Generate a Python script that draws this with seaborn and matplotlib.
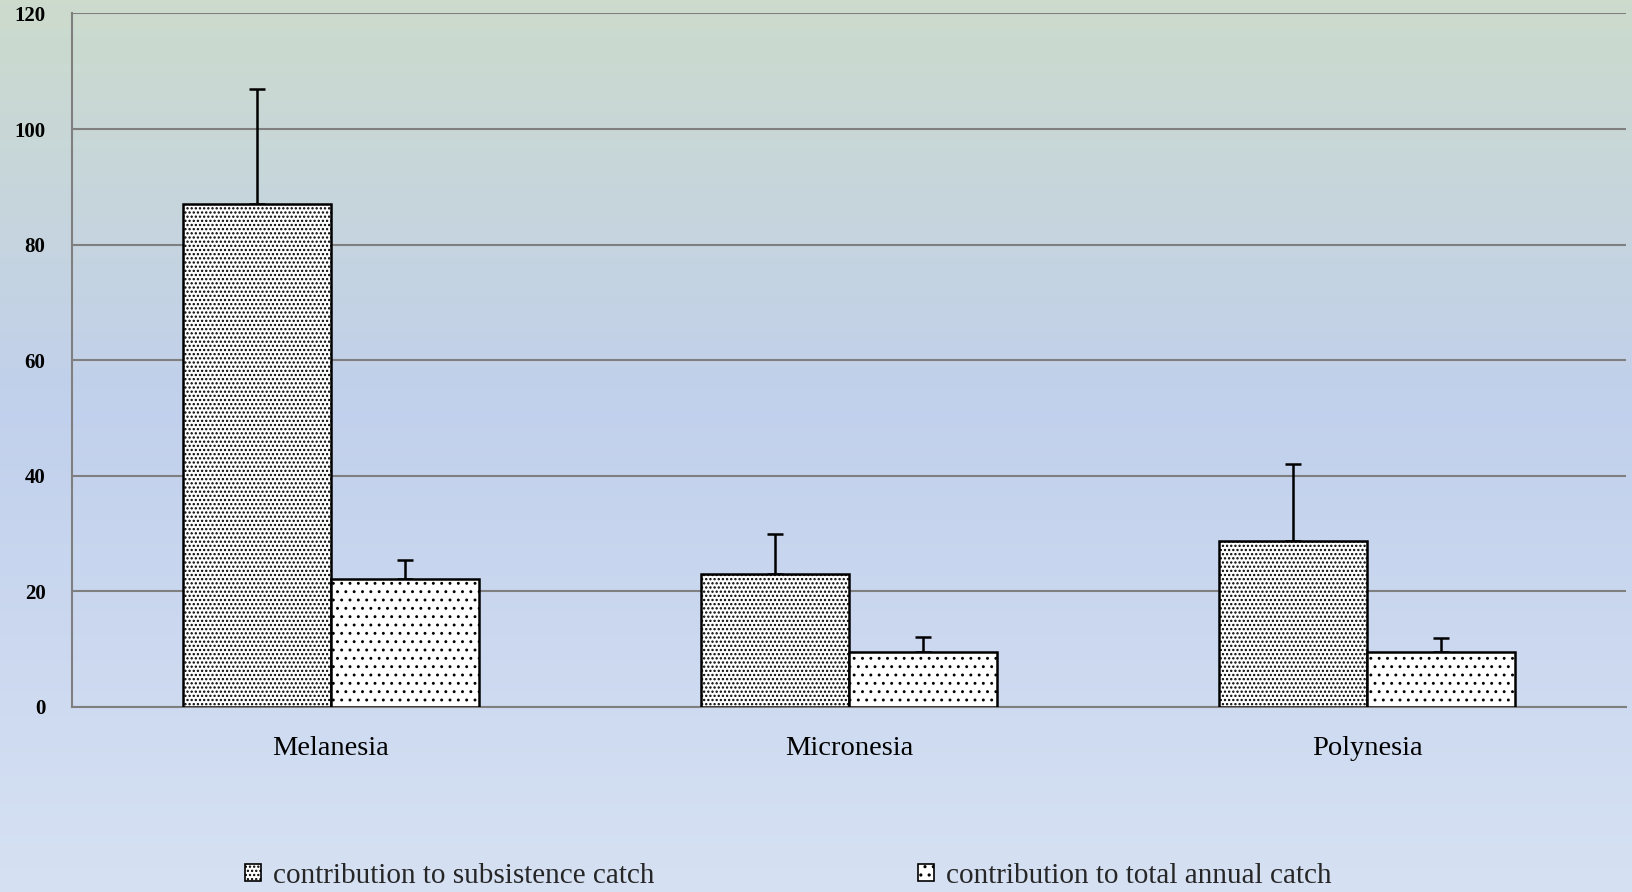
import numpy as np
import pandas as pd
import matplotlib
matplotlib.use("Agg")
import matplotlib.pyplot as plt
from matplotlib.colors import LinearSegmentedColormap
from matplotlib.patches import Patch
import seaborn as sns

# ---- data ----
regions = ["Melanesia", "Micronesia", "Polynesia"]
series = ["contribution to subsistence catch", "contribution to total annual catch"]
subsistence = [87.0, 23.0, 28.8]
subsistence_upper = [107.0, 30.0, 42.0]
total_annual = [22.2, 9.6, 9.6]
total_upper = [25.4, 12.1, 11.9]
y_ticks = [0, 20, 40, 60, 80, 100, 120]

df = pd.DataFrame({
    "region": regions * 2,
    "series": [series[0]] * 3 + [series[1]] * 3,
    "value": subsistence + total_annual,
})
uppers = subsistence_upper + total_upper

sns.set_theme(style="white")
plt.rcParams["font.family"] = ["Liberation Serif", "DejaVu Serif"]
plt.rcParams["hatch.linewidth"] = 1.1
plt.rcParams["hatch.color"] = "black"

fig = plt.figure(figsize=(16.32, 8.92), dpi=100)

# background gradient
bg = fig.add_axes([0, 0, 1, 1], zorder=-10)
cmap = LinearSegmentedColormap.from_list(
    "bg", [(0.0, (0.800, 0.859, 0.800)), (0.45, (0.757, 0.816, 0.925)), (1.0, (0.839, 0.882, 0.953))])
grad = np.linspace(0, 1, 256).reshape(-1, 1)
bg.imshow(grad, aspect="auto", cmap=cmap, extent=[0, 1, 0, 1], origin="upper")
bg.axis("off")

ax = fig.add_axes([0.0441, 0.2074, 0.9522, 0.7775])
ax.set_facecolor("none")

sns.barplot(data=df, x="region", y="value", hue="series", order=regions, hue_order=series,
            width=0.57, palette=["white", "white"], edgecolor="black",
            linewidth=1.8, errorbar=None, ax=ax, legend=False, saturation=1, zorder=3)

hatches = ["....", ".."]
bars = [p for p in ax.patches]
for i, p in enumerate(bars):
    p.set_hatch(hatches[i // 3])
    p.set_facecolor("white")
    p.set_edgecolor("black")
    if i >= 3:
        try:
            p.set_hatch_linewidth(0.9)
        except AttributeError:
            pass

for i, p in enumerate(bars):
    cx = p.get_x() + p.get_width() / 2
    val = p.get_height()
    up = uppers[i] - val
    ax.errorbar([cx], [val], yerr=[[0], [up]], fmt="none", ecolor="black",
                elinewidth=1.8, capsize=5.5, capthick=1.8, zorder=2)

ax.set_ylim(0, 120)
ax.set_xlim(-0.5, 2.5)
ax.set_yticks(y_ticks)
ax.set_yticklabels([str(t) for t in y_ticks], fontsize=15, fontweight="bold")
ax.yaxis.grid(True, color="#7f7f7f", linewidth=1.5, zorder=0)
ax.set_axisbelow(True)
ax.set_xticks([0, 1, 2])
ax.set_xticklabels(regions, fontsize=20.5)
ax.set_xticks([-0.5, 0.5, 1.5, 2.5], minor=True)
ax.tick_params(axis="x", which="major", length=0, pad=21, colors="black")
ax.tick_params(axis="x", which="minor", length=8, width=1.5, color="#7f7f7f", direction="out")
ax.tick_params(axis="y", length=8, width=1.5, color="#7f7f7f", direction="out", pad=11, labelcolor="black")
ax.set_xlabel("")
ax.set_ylabel("")
for s in ["top", "right"]:
    ax.spines[s].set_visible(False)
for s in ["left", "bottom"]:
    ax.spines[s].set_color("#7f7f7f")
    ax.spines[s].set_linewidth(1.5)

handles = [Patch(facecolor="white", edgecolor="black", hatch=hatches[0], linewidth=1.2),
           Patch(facecolor="white", edgecolor="black", hatch=hatches[1], linewidth=1.2)]
fig.legend(handles, series, loc="center left", bbox_to_anchor=(0.150, 0.018), ncol=2,
           frameon=False, fontsize=21, handlelength=0.55, handleheight=0.55,
           handletextpad=0.4, columnspacing=9.05, borderpad=0, borderaxespad=0)

fig.savefig("out.png", dpi=100)
